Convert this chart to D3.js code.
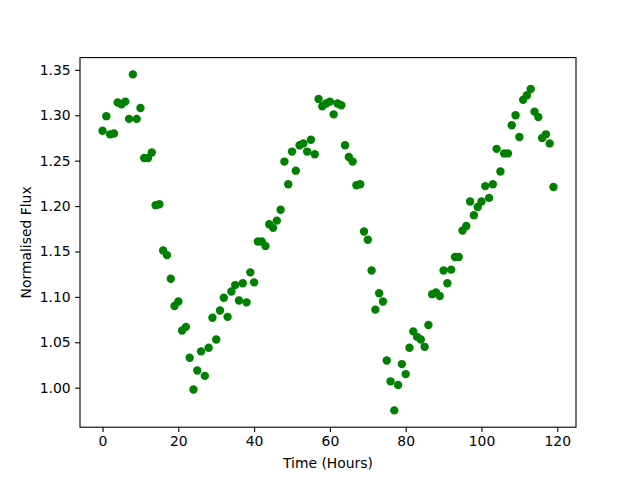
<!DOCTYPE html>
<html>
<head>
<meta charset="utf-8">
<script src="https://cdn.jsdelivr.net/npm/d3@7"></script>
<style>
  body { margin: 0; background: #fff; }
  svg { font-family: "DejaVu Sans", sans-serif; }
</style>
</head>
<body>
<div id="chart"></div>
<script>
// time in hours, one reading per hour
const hours = d3.range(0, 120);
const flux = [
  1.283, 1.299, 1.279, 1.280, 1.314, 1.312, 1.315, 1.296, 1.345, 1.296,
  1.308, 1.253, 1.253, 1.259, 1.201, 1.202, 1.151, 1.146, 1.120, 1.090,
  1.095, 1.063, 1.067, 1.033, 0.998, 1.019, 1.040, 1.013, 1.044, 1.077,
  1.053, 1.085, 1.099, 1.078, 1.106, 1.113, 1.096, 1.115, 1.094, 1.127,
  1.116, 1.161, 1.161, 1.156, 1.180, 1.176, 1.184, 1.196, 1.249, 1.224,
  1.260, 1.239, 1.267, 1.269, 1.260, 1.273, 1.257, 1.318, 1.310, 1.313,
  1.315, 1.301, 1.313, 1.311, 1.267, 1.254, 1.249, 1.223, 1.224, 1.172,
  1.163, 1.129, 1.086, 1.104, 1.095, 1.030, 1.007, 0.975, 1.003, 1.026,
  1.015, 1.044, 1.062, 1.056, 1.053, 1.045, 1.069, 1.103, 1.105, 1.101,
  1.129, 1.115, 1.130, 1.144, 1.144, 1.173, 1.178, 1.205, 1.190, 1.199,
  1.205, 1.222, 1.209, 1.224, 1.263, 1.238, 1.258, 1.258, 1.289, 1.300,
  1.276, 1.317, 1.322, 1.329, 1.304, 1.298, 1.275, 1.279, 1.269, 1.221
];
const xTicks = [0, 20, 40, 60, 80, 100, 120];
const yTicks = [1.00, 1.05, 1.10, 1.15, 1.20, 1.25, 1.30, 1.35];

const width = 640, height = 480;
const margin = { left: 80, right: 64, top: 57.6, bottom: 52.8 };

// matplotlib style 5% padding
function padded(ext) {
  const p = (ext[1] - ext[0]) * 0.05;
  return [ext[0] - p, ext[1] + p];
}

const x = d3.scaleLinear()
  .domain(padded(d3.extent(hours)))
  .range([margin.left, width - margin.right]);
const y = d3.scaleLinear()
  .domain(padded(d3.extent(flux)))
  .range([height - margin.bottom, margin.top]);

const svg = d3.select('#chart').append('svg')
  .attr('width', width)
  .attr('height', height);

svg.append('g')
  .selectAll('circle')
  .data(hours)
  .join('circle')
  .attr('cx', (d, i) => x(hours[i]))
  .attr('cy', (d, i) => y(flux[i]))
  .attr('r', 4.2)
  .attr('fill', '#008000');

const xAxis = svg.append('g')
  .attr('transform', `translate(0,${height - margin.bottom})`)
  .call(d3.axisBottom(x).tickValues(xTicks).tickSize(4.9).tickPadding(4.5).tickFormat(d3.format('d')));
const yAxis = svg.append('g')
  .attr('transform', `translate(${margin.left},0)`)
  .call(d3.axisLeft(y).tickValues(yTicks).tickSize(4.9).tickPadding(4.5).tickFormat(d3.format('.2f')));

[xAxis, yAxis].forEach(a => {
  a.select('.domain').remove();
  a.selectAll('line').attr('stroke', '#000').attr('stroke-width', 1.1);
  a.selectAll('text').attr('font-size', 13.9).attr('fill', '#000')
    .attr('font-family', '"DejaVu Sans", sans-serif');
});

// frame
svg.append('rect')
  .attr('x', margin.left)
  .attr('y', margin.top)
  .attr('width', width - margin.left - margin.right)
  .attr('height', height - margin.top - margin.bottom)
  .attr('fill', 'none')
  .attr('stroke', '#000')
  .attr('stroke-width', 1.1);

svg.append('text')
  .attr('x', (margin.left + width - margin.right) / 2)
  .attr('y', 468)
  .attr('text-anchor', 'middle')
  .attr('font-size', 13.9)
  .text('Time (Hours)');

svg.append('text')
  .attr('transform', `translate(31,${(margin.top + height - margin.bottom) / 2}) rotate(-90)`)
  .attr('text-anchor', 'middle')
  .attr('font-size', 13.9)
  .text('Normalised Flux');
</script>
</body>
</html>
